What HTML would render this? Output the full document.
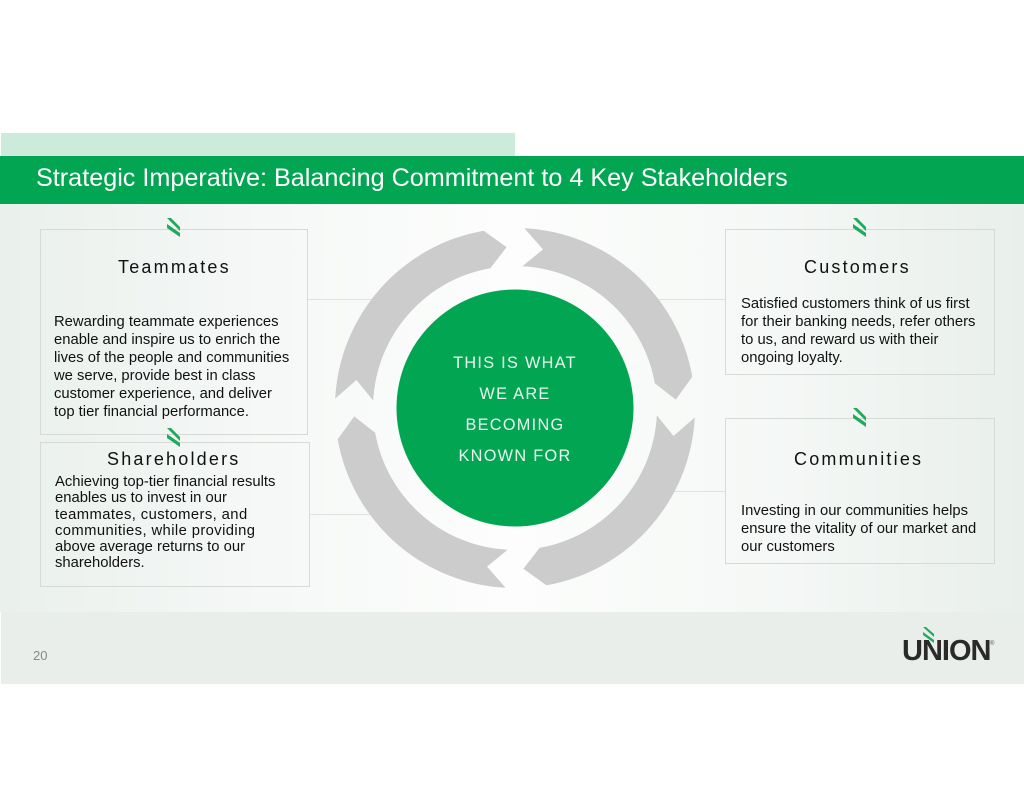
<!DOCTYPE html>
<html><head><meta charset="utf-8"><style>
body{margin:0;width:1024px;height:791px;background:#fff;position:relative;overflow:hidden;font-family:"Liberation Sans",Arial,sans-serif;}
.a{position:absolute}
.box{position:absolute;border:1.5px solid #d6dad7;box-sizing:border-box}
.ttl{position:absolute;font-size:18px;letter-spacing:2.2px;color:#111;white-space:nowrap}
.txt{position:absolute;font-size:14.8px;line-height:18px;color:#111;white-space:nowrap}
.ln{position:absolute;height:1px;background:#dfe3e0}
</style></head><body>
<div class="a" style="left:1px;top:133px;width:514px;height:23px;background:#cdebdb"></div>
<div class="a" style="left:0;top:156px;width:1024px;height:48px;background:#02a551"></div>
<div class="a" style="left:36px;top:164px;font-size:25.2px;color:#fff;white-space:nowrap">Strategic Imperative: Balancing Commitment to 4 Key Stakeholders</div>
<div class="a" style="left:0;top:204px;width:1024px;height:408px;background:linear-gradient(90deg,#eaf0ec 0%,#f7f9f8 30%,#fcfdfc 50%,#f5f8f6 75%,#e9efeb 100%)"></div>
<div class="a" style="left:1px;top:612px;width:1023px;height:72px;background:#e9eeea"></div>

<div class="ln" style="left:307px;top:299px;width:70px"></div>
<div class="ln" style="left:310px;top:514px;width:70px"></div>
<div class="ln" style="left:655px;top:299px;width:70px"></div>
<div class="ln" style="left:670px;top:491px;width:55px"></div>

<svg class="a" style="left:0;top:0" width="1024" height="791">
<defs>
<path id="seg" d="M9.4,-179.8 A180,180 0 0 1 177.3,-31.3 L160.8,-8.4 L139.8,-24.7 A142,142 0 0 0 7.4,-141.8 L28.0,-158.6 Z" fill="#cccccc"/>
<g id="ic"><polygon points="0,0 4,0 13,9 13,13" fill="#1faa5c"/><polygon points="0,6 0,10 13,19 13,15" fill="#1faa5c"/></g>
</defs>
<g transform="translate(515,408)">
<use href="#seg"/>
<use href="#seg" transform="rotate(90)"/>
<use href="#seg" transform="rotate(180)"/>
<use href="#seg" transform="rotate(270)"/>
<circle cx="0" cy="0" r="118.5" fill="#02a551"/>
</g>
</svg>

<div class="box" style="left:40px;top:229px;width:268px;height:206px"></div>
<div class="box" style="left:40px;top:442px;width:270px;height:145px"></div>
<div class="box" style="left:725px;top:229px;width:270px;height:146px"></div>
<div class="box" style="left:725px;top:418px;width:270px;height:146px"></div>

<svg class="a" style="left:167px;top:218px" width="14" height="20"><use href="#ic"/></svg>
<svg class="a" style="left:167px;top:428px" width="14" height="20"><use href="#ic"/></svg>
<svg class="a" style="left:853px;top:218px" width="14" height="20"><use href="#ic"/></svg>
<svg class="a" style="left:853px;top:408px" width="14" height="20"><use href="#ic"/></svg>

<div class="ttl" style="left:118px;top:257px">Teammates</div>
<div class="txt" style="left:54px;top:313px">Rewarding teammate experiences<br>enable and inspire us to enrich the<br>lives of the people and communities<br>we serve, provide best in class<br>customer experience, and deliver<br>top tier financial performance.</div>

<div class="ttl" style="left:107px;top:449px">Shareholders</div>
<div class="txt" style="left:55px;top:474px;line-height:16.3px">Achieving top-tier financial results<br>enables us to invest in our<br><span style="letter-spacing:0.4px">teammates, customers, and</span><br><span style="letter-spacing:0.4px">communities, while providing</span><br>above average returns to our<br>shareholders.</div>

<div class="ttl" style="left:804px;top:257px">Customers</div>
<div class="txt" style="left:741px;top:295px">Satisfied customers think of us first<br>for their banking needs, refer others<br>to us, and reward us with their<br>ongoing loyalty.</div>

<div class="ttl" style="left:794px;top:449px">Communities</div>
<div class="txt" style="left:741px;top:502px">Investing in our communities helps<br>ensure the vitality of our market and<br>our customers</div>

<div class="a" style="left:405px;top:348px;width:220px;text-align:center;color:#e9f7ee;font-size:16.3px;letter-spacing:1.3px;line-height:31px">THIS IS WHAT<br>WE ARE<br>BECOMING<br>KNOWN FOR</div>

<div class="a" style="left:33px;top:648px;font-size:13px;color:#888">20</div>
<div class="a" style="left:902px;top:635px;font-size:29px;font-weight:bold;color:#2a2a2a;letter-spacing:-1px">UNION</div>
<div class="a" style="left:990px;top:641px;font-size:6px;color:#555">®</div>
<svg class="a" style="left:923px;top:627px" width="12" height="17"><polygon points="0,0 3,0 11,7 11,10" fill="#1faa5c"/><polygon points="0,5 0,8 11,16 11,13" fill="#1faa5c"/></svg>
</body></html>
